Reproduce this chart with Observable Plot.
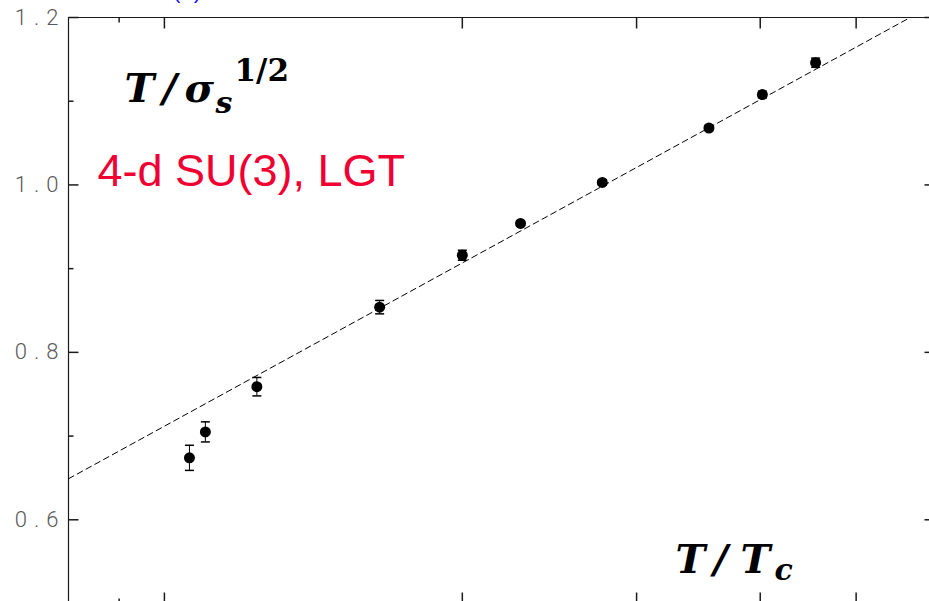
<!DOCTYPE html>
<html>
<head>
<meta charset="utf-8">
<script src="https://cdn.jsdelivr.net/npm/d3@7"></script>
<script src="https://cdn.jsdelivr.net/npm/@observablehq/plot@0.6"></script>
<style>
  html, body { margin: 0; padding: 0; background: #fff; overflow: hidden; }
  g[font-family="Roboto"] text { letter-spacing: 7px; }
  g[font-size="40"][font-style="italic"] text { letter-spacing: 8px; }
</style>
</head>
<body>
<div id="chart"></div>
<script>
// Spatial string tension, 4-d SU(3) lattice gauge theory: T/sqrt(sigma_s) against T/Tc
const tOverTc        = [1.06, 1.10, 1.24, 1.65, 2.00, 2.29, 2.77, 3.55, 4.02, 4.55];
const tOverSqrtSigma = [0.674, 0.705, 0.759, 0.854, 0.916, 0.954, 1.003, 1.068, 1.108, 1.146];
const errors         = [0.015, 0.012, 0.011, 0.008, 0.006, 0.003, 0.003, 0.003, 0.004, 0.0055];

// Fitted straight line (in log T) through the high-temperature points
const fitT = [0.8, 5.67];
const fitY = [0.649, 1.2];

// Axis extents and tick values
const xDomain = [0.8, 6];
const yDomain = [0.5, 1.2];
const xMajorTicks = [1, 2, 3, 4, 5];
const xMinorTicks = [0.9];
const yMajorTicks = [0.6, 0.8, 1.0, 1.2];
const yMinorTicks = [0.7, 0.9, 1.1];

const points = tOverTc.map((t, i) => ({t, y: tOverSqrtSigma[i], e: errors[i]}));
const fit = fitT.map((t, i) => ({t, y: fitY[i]}));

// Line-segment symbols used for error-bar caps and inward-pointing ticks
const segment = (x0, y0, x1, y1) => ({
  draw(context) { context.moveTo(x0, y0); context.lineTo(x1, y1); }
});
const cap = segment(-4.5, 0, 4.5, 0);
const tickRight = (len) => segment(0, 0, len, 0);
const tickLeft = (len) => segment(0, 0, -len, 0);
const tickDown = (len) => segment(0, 0, 0, len);
const tickUp = (len) => segment(0, 0, 0, -len);

const ink = "#1a1a1a";
const serif = "DejaVu Serif";

const label = (text, dx, dy, opts = {}) =>
  Plot.text([text], {
    frameAnchor: "top-left", text: d => d, dx, dy,
    textAnchor: "start", lineAnchor: "bottom",
    fontFamily: serif, fontWeight: "bold", fill: "black", ...opts
  });

const chart = Plot.plot({
  width: 929,
  height: 601,
  margin: 0,
  x: {type: "log", domain: xDomain, range: [68, 934], axis: null},
  y: {domain: yDomain, range: [603, 17], axis: null},
  marks: [
    // frame
    Plot.ruleX(xDomain, {y1: yDomain[0], y2: yDomain[1], stroke: ink, strokeWidth: 1.2}),
    Plot.ruleY(yDomain, {x1: xDomain[0], x2: xDomain[1], stroke: ink, strokeWidth: 1.2}),

    // y ticks, left and right sides
    Plot.dot(yMajorTicks, {x: () => xDomain[0], y: d => d, symbol: tickRight(10), r: 1, stroke: ink, fill: "none"}),
    Plot.dot(yMinorTicks, {x: () => xDomain[0], y: d => d, symbol: tickRight(5), r: 1, stroke: ink, fill: "none"}),
    Plot.dot(yMajorTicks, {x: () => xDomain[1], y: d => d, symbol: tickLeft(10), r: 1, stroke: ink, fill: "none"}),
    Plot.dot(yMinorTicks, {x: () => xDomain[1], y: d => d, symbol: tickLeft(5), r: 1, stroke: ink, fill: "none"}),

    // x ticks, top and bottom sides
    Plot.dot(xMajorTicks, {x: d => d, y: () => yDomain[1], symbol: tickDown(11), r: 1, stroke: ink, fill: "none"}),
    Plot.dot(xMinorTicks, {x: d => d, y: () => yDomain[1], symbol: tickDown(5), r: 1, stroke: ink, fill: "none"}),
    Plot.dot(xMajorTicks, {x: d => d, y: () => yDomain[0], symbol: tickUp(11), r: 1, stroke: ink, fill: "none"}),
    Plot.dot(xMinorTicks, {x: d => d, y: () => yDomain[0], symbol: tickUp(5), r: 1, stroke: ink, fill: "none"}),

    // y tick labels
    Plot.text(yMajorTicks, {
      x: () => xDomain[0], y: d => d, text: d => d.toFixed(1),
      textAnchor: "end", dx: -3, fontFamily: "Roboto", fontWeight: 300,
      fontSize: 22, fill: "#5a5a5a"
    }),

    // fitted line
    Plot.line(fit, {x: "t", y: "y", stroke: "black", strokeWidth: 1, strokeDasharray: "6,4"}),

    // error bars and data points
    Plot.ruleX(points, {x: "t", y1: d => d.y - d.e, y2: d => d.y + d.e, stroke: "black", strokeWidth: 1}),
    Plot.dot(points, {x: "t", y: d => d.y - d.e, symbol: cap, r: 1, stroke: "black", fill: "none"}),
    Plot.dot(points, {x: "t", y: d => d.y + d.e, symbol: cap, r: 1, stroke: "black", fill: "none"}),
    Plot.dot(points, {x: "t", y: "y", r: 5.5, fill: "black", stroke: "none"}),

    // panel tag above the frame
    Plot.text(["(a)"], {frameAnchor: "top-left", text: d => d, dx: 172, dy: -3, textAnchor: "start",
      lineAnchor: "bottom", fontFamily: "Liberation Sans", fontSize: 24, fill: "#1a1aff"}),

    // vertical-axis quantity T/σ_s^{1/2}
    label("T/", 124, 101, {fontStyle: "italic", fontSize: 40}),
    label("σ", 184, 101, {fontStyle: "oblique", fontSize: 40}),
    label("s", 215, 112, {fontStyle: "italic", fontSize: 30}),
    label("1/2", 234, 80, {fontSize: 31}),

    // model label
    label("4-d SU(3), LGT", 97, 185, {fontFamily: "Liberation Sans", fontWeight: "normal",
      fontSize: 45, fill: "#f00032"}),

    // horizontal-axis quantity T/T_c
    label("T/", 675, 572, {fontStyle: "italic", fontSize: 40}),
    label("T", 740, 572, {fontStyle: "oblique", fontSize: 40}),
    label("c", 774, 579, {fontStyle: "italic", fontSize: 30})
  ]
});

document.getElementById("chart").appendChild(chart);
</script>
</body>
</html>
